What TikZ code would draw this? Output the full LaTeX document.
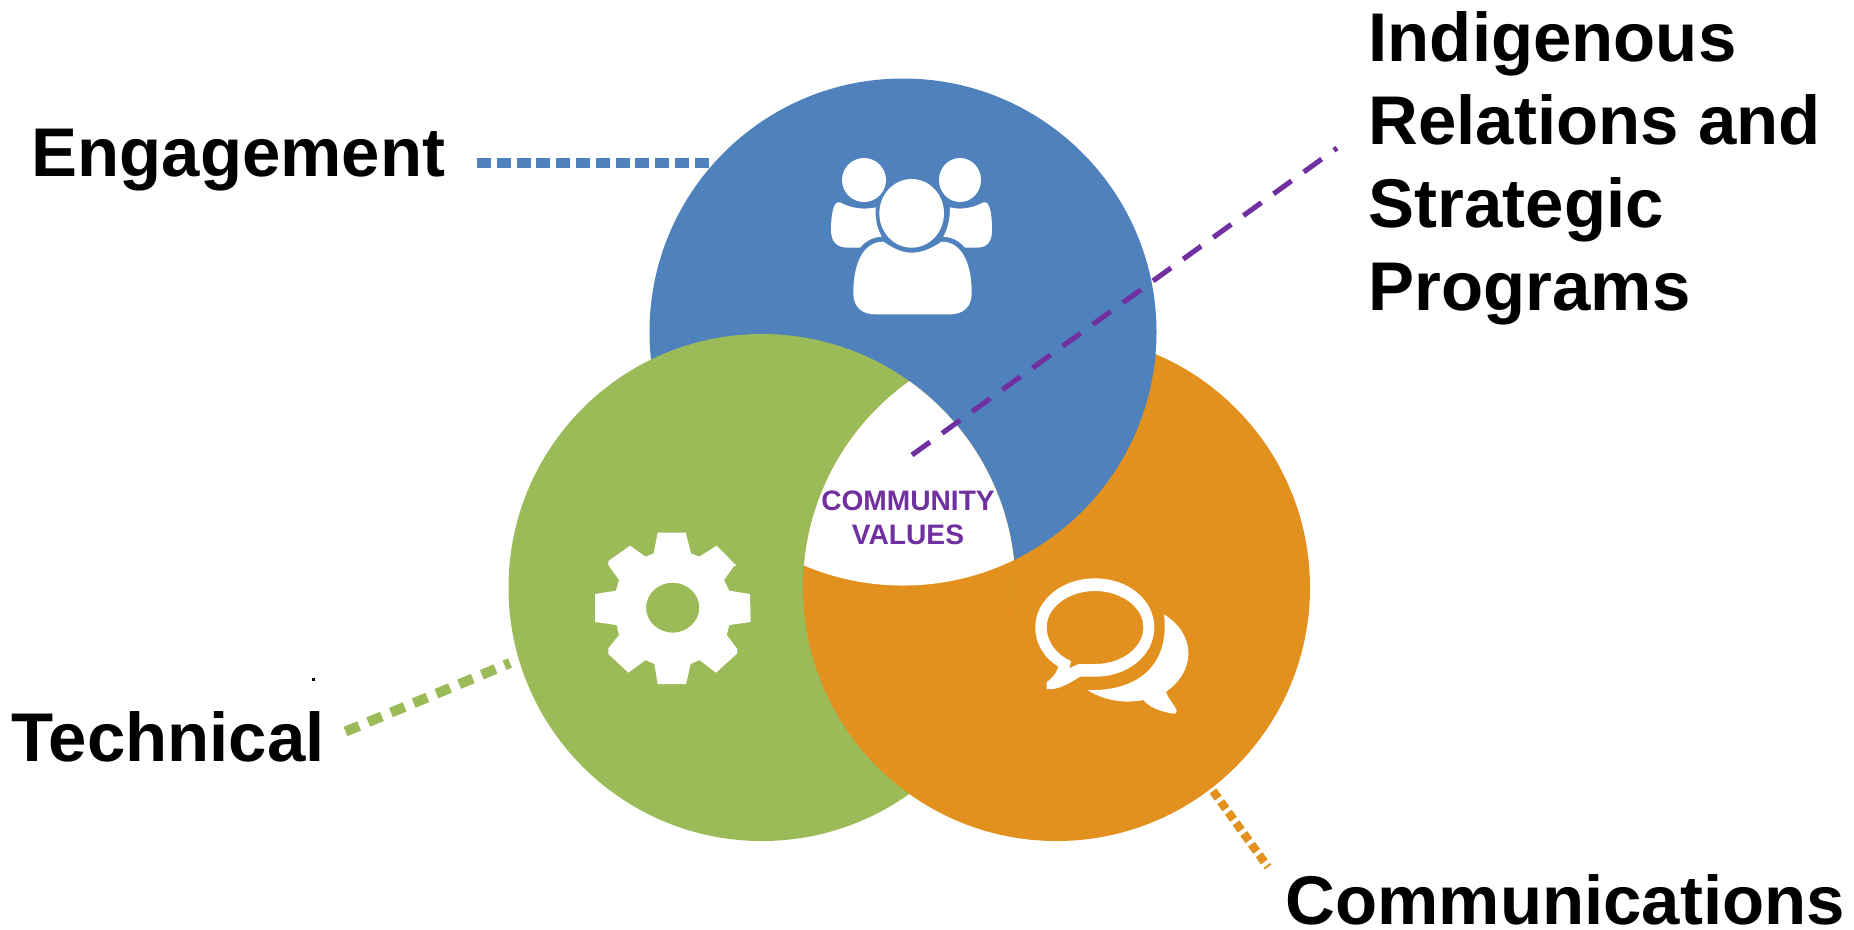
\documentclass[tikz,border=0pt]{standalone}
\usepackage{fontspec}
\setmainfont{Liberation Sans}
\definecolor{engblue}{HTML}{4F81BD}
\definecolor{techgreen}{HTML}{9BBB59}
\definecolor{commorange}{HTML}{E2911F}
\definecolor{valpurple}{HTML}{7030A0}
\tikzset{
	biglabel/.style={anchor=base west, inner sep=0pt, align=left, font=\fontsize{19.6}{23.6}\selectfont\bfseries},
	icon/.style={fill=white, even odd rule},
}
\begin{document}
\begin{tikzpicture}[x=.01cm, y=-.01cm, line join=round]
	\useasboundingbox (0,0) rectangle (1854,929);
	% circles
	\def\rad{253.5}
	\fill[commorange] (1056.5,587.5) circle[radius=\rad];
	\fill[engblue] (903,332) circle[radius=\rad];
	\fill[techgreen] (762,587.5) circle[radius=\rad];
	\begin{scope}
	\clip (762,587.5) circle[radius=\rad];
	\fill[commorange] (1056.5,587.5) circle[radius=\rad];
	\clip (1056.5,587.5) circle[radius=\rad];
	\fill[white] (903,332) circle[radius=\rad];
	\end{scope}
	% people
	\begin{scope}[shift={(780,120)}, scale=1/3]
	\fill[icon] (252,180) ellipse[x radius=66, y radius=66];
	\fill[icon] (540,180) ellipse[x radius=63, y radius=66];
	\fill[icon] (395,280) ellipse[x radius=97, y radius=103];
	\fill[icon] (310,365) .. controls (340,385) and (365,398) .. (395,398)
		.. controls (425,398) and (455,385) .. (485,365)
		.. controls (540,365) and (575,420) .. (575,520)
		.. controls (575,560) and (550,583) .. (510,583) -- (285,583)
		.. controls (245,583) and (220,560) .. (220,520)
		.. controls (220,420) and (255,365) .. (310,365) -- cycle;
	\fill[icon] (180,247) .. controls (205,260) and (240,272) .. (287,262)
		.. controls (285,300) and (292,325) .. (305,350)
		.. controls (275,352) and (255,365) .. (240,383) -- (205,383)
		.. controls (170,383) and (153,365) .. (153,330)
		.. controls (153,285) and (160,240) .. (180,247) -- cycle;
	\fill[icon] (610,247) .. controls (585,260) and (550,272) .. (510,262)
		.. controls (510,300) and (503,325) .. (490,350)
		.. controls (520,352) and (540,365) .. (555,383) -- (590,383)
		.. controls (622,383) and (636,365) .. (636,330)
		.. controls (636,285) and (630,240) .. (610,247) -- cycle;
	\end{scope}
	% gear
	\begin{scope}[shift={(560,500)}, scale=1/3]
	\fill[icon] (293,98)--(377,98)--(393,160)--(418,170)--(470,137)--(522,190)--(530,197)--(522,198)--(492,240)--(508,272)
		--(570,282)--(572,366)--(508,375)--(500,405)--(532,447)--(532,460)--(468,518)--(418,480)--(392,492)--(378,552)
		--(293,552)--(283,492)--(257,480)--(205,518)--(145,462)--(145,445)--(177,405)--(170,375)--(105,366)--(105,282)
		--(168,272)--(177,240)--(145,195)--(145,183)--(210,137)--(257,170)--(281,160)--cycle
		(338,323) ellipse[x radius=80, y radius=75];
	\end{scope}
	% speech
	\begin{scope}[shift={(1000,550)}, scale=1/3]
	\fill[icon] (240,380) -- (285,380)
		.. controls (385,380) and (463,315) .. (463,232)
		.. controls (463,150) and (385,85) .. (285,85)
		.. controls (185,85) and (106,150) .. (106,232)
		.. controls (106,285) and (135,325) .. (175,350)
		.. controls (170,370) and (155,385) .. (140,397) -- (140,417)
		.. controls (170,422) and (205,402) .. (240,380) -- cycle
		(285,342) .. controls (365,342) and (430,293) .. (430,232)
		.. controls (430,172) and (365,123) .. (285,123)
		.. controls (205,123) and (140,172) .. (140,232)
		.. controls (140,275) and (170,315) .. (213,333)
		-- (208,355) -- (235,342) -- cycle;
	\fill[icon] (492,193) .. controls (535,220) and (565,260) .. (565,310)
		.. controls (565,360) and (535,400) .. (498,425)
		.. controls (505,450) and (530,470) .. (530,485)
		.. controls (528,495) and (515,490) .. (500,487)
		.. controls (470,480) and (445,468) .. (430,450)
		.. controls (370,462) and (310,450) .. (262,420)
		.. controls (420,425) and (510,340) .. (492,193) -- cycle;
	\end{scope}
	% labels
	\node[biglabel] (engagement) at (31,176) {Engagement};
	\node[biglabel] (technical) at (11,761) {Technical};
	\node[biglabel] (communications) at (1285,924) {Communications};
	\node[biglabel, anchor=north west] (indigenous) at (1368,11) {Indigenous\\Relations and\\Strategic\\Programs};
	\node[inner sep=0pt, align=center, text=valpurple, font=\fontsize{8}{9.6}\selectfont\bfseries] (values) at (908,517.5) {COMMUNITY\\VALUES};
	% dotted lines
	\coordinate (engstart) at (477,163.3);
	\coordinate (engend) at (709,163.3);
	\coordinate (techstart) at (345.5,731.5);
	\coordinate (techend) at (510,663);
	\coordinate (commstart) at (1213,791);
	\coordinate (commend) at (1268,867);
	\coordinate (valstart) at (912,455);
	\coordinate (valend) at (1337,148);
	\draw[engblue, line width=2.8pt, dash pattern=on 3.98pt off 1.65pt] (engstart)--(engend);
	\draw[techgreen, line width=2.85pt, dash pattern=on 4.2pt off 2.8pt] (techstart)--(techend);
	\draw[commorange, line width=2.4pt, dash pattern=on 2.5pt off 1.23pt] (commstart)--(commend);
	\draw[valpurple, line width=1.45pt, dash pattern=on 6.3pt off 4.27pt] (valstart)--(valend);
	\fill (311.5,677.5) rectangle (314.5,680.5);
\end{tikzpicture}
\end{document}
